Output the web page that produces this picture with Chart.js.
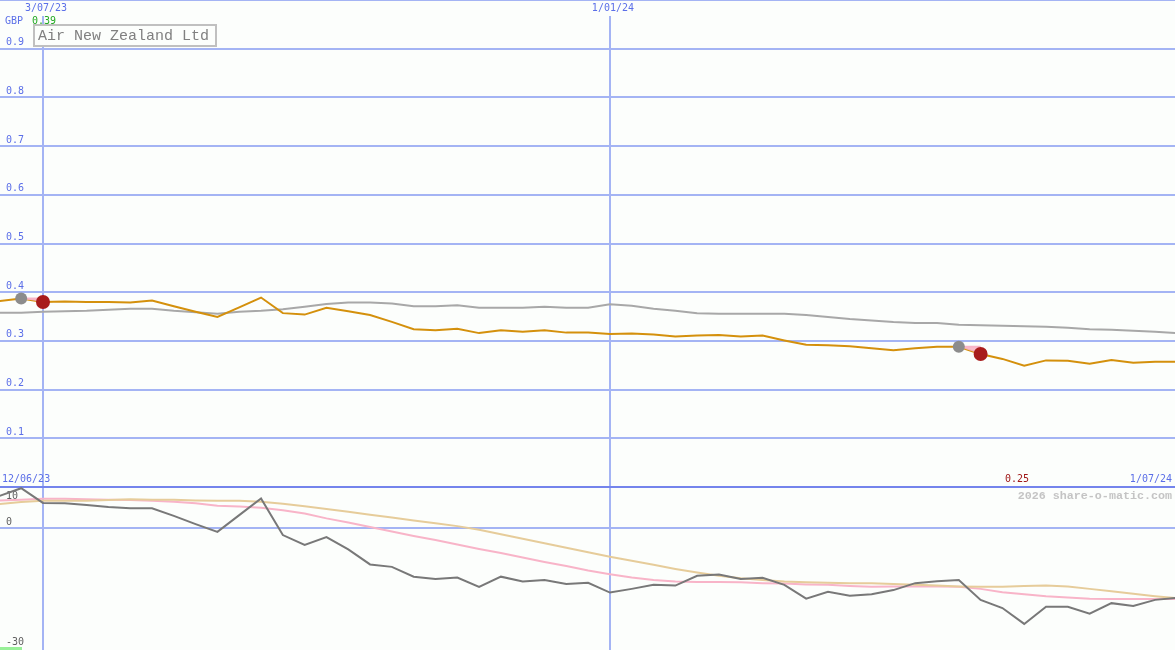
<!DOCTYPE html>
<html><head><meta charset="utf-8">
<script src="https://cdn.jsdelivr.net/npm/chart.js@4.4.1/dist/chart.umd.min.js"></script>
<style>html,body{margin:0;padding:0;background:#fcfefc;overflow:hidden}canvas{display:block}</style>
</head><body>
<canvas id="c" width="1175" height="650"></canvas>
<script>
const dates = ['19/06/23','26/06/23','3/07/23','10/07/23','17/07/23','24/07/23','31/07/23','7/08/23','14/08/23','21/08/23','28/08/23','4/09/23','11/09/23','18/09/23','25/09/23','2/10/23','9/10/23','16/10/23','23/10/23','30/10/23','6/11/23','13/11/23','20/11/23','27/11/23','4/12/23','11/12/23','18/12/23','25/12/23','1/01/24','8/01/24','15/01/24','22/01/24','29/01/24','5/02/24','12/02/24','19/02/24','26/02/24','4/03/24','11/03/24','18/03/24','25/03/24','1/04/24','8/04/24','15/04/24','22/04/24','29/04/24','6/05/24','13/05/24','20/05/24','27/05/24','3/06/24','10/06/24','17/06/24','24/06/24','1/07/24'];
const price = [0.382,0.387,0.380,0.381,0.380,0.380,0.379,0.383,0.371,0.360,0.349,0.369,0.389,0.357,0.354,0.368,0.361,0.353,0.339,0.324,0.322,0.325,0.316,0.322,0.319,0.322,0.317,0.317,0.314,0.315,0.313,0.309,0.311,0.312,0.309,0.311,0.301,0.292,0.291,0.289,0.285,0.281,0.285,0.288,0.288,0.273,0.263,0.249,0.260,0.259,0.253,0.261,0.255,0.257,0.257];
const priceAvg = [0.358,0.358,0.360,0.361,0.362,0.364,0.366,0.366,0.362,0.359,0.356,0.360,0.362,0.365,0.370,0.376,0.379,0.379,0.377,0.371,0.371,0.373,0.368,0.368,0.368,0.370,0.368,0.368,0.375,0.372,0.366,0.362,0.357,0.356,0.356,0.356,0.356,0.353,0.349,0.345,0.342,0.339,0.337,0.337,0.333,0.332,0.331,0.330,0.329,0.327,0.324,0.323,0.321,0.319,0.316];
const momentum = [7.8,9.7,6.1,6.0,5.6,5.1,4.8,4.8,2.9,0.9,-1.0,3.1,7.2,-1.8,-4.2,-2.3,-5.3,-9.0,-9.6,-12.0,-12.6,-12.2,-14.5,-12.0,-13.2,-12.8,-13.8,-13.5,-15.9,-15.0,-14.0,-14.2,-11.8,-11.5,-12.6,-12.3,-14.0,-17.4,-15.7,-16.7,-16.3,-15.3,-13.6,-13.1,-12.8,-17.7,-19.7,-23.6,-19.4,-19.4,-21.1,-18.5,-19.2,-17.7,-17.2];
const momentumFast = [6.7,6.9,7.1,7.1,7.0,6.9,6.8,6.6,6.4,6.0,5.4,5.2,4.9,4.3,3.5,2.3,1.3,0.2,-0.9,-2.0,-3.0,-4.1,-5.2,-6.2,-7.3,-8.4,-9.4,-10.5,-11.4,-12.2,-12.8,-13.2,-13.3,-13.3,-13.4,-13.6,-13.7,-13.9,-14.0,-14.3,-14.5,-14.4,-14.4,-14.4,-14.5,-15.0,-15.8,-16.3,-16.8,-17.1,-17.4,-17.5,-17.5,-17.5,-17.5];
const momentumSlow = [5.8,6.3,6.6,6.6,6.6,6.8,7.0,6.9,6.9,6.7,6.6,6.6,6.4,5.9,5.3,4.6,3.9,3.2,2.5,1.8,1.1,0.4,-0.5,-1.6,-2.7,-3.8,-4.9,-6.0,-7.1,-8.1,-9.1,-10.1,-11.0,-11.8,-12.4,-12.8,-13.2,-13.4,-13.5,-13.6,-13.6,-13.8,-14.0,-14.2,-14.4,-14.5,-14.5,-14.3,-14.2,-14.4,-15.0,-15.6,-16.2,-16.8,-17.3];
const signalGrayIdx = [1, 44];
const signalRedIdx = [2, 45];
const xTickDates = ['3/07/23', '1/01/24'];
const priceTicks = [0, 0.1, 0.2, 0.3, 0.4, 0.5, 0.6, 0.7, 0.8, 0.9];
const momentumTicks = [-30, 0, 10];
const title = 'Air New Zealand Ltd';

const BLUE_TXT = '#5b6fe8', GRID = '#a4b4f4', SEP = '#7484ec', BG = '#fcfefc';
const MONO = "'DejaVu Sans Mono', 'Liberation Mono', monospace";
const REF = Date.UTC(2023, 6, 3);
function dayOf(s) { const [d, m, y] = s.split('/').map(Number); return (Date.UTC(2000 + y, m - 1, d) - REF) / 86400000; }
const xs = dates.map(dayOf);
const pts = arr => arr.map((v, i) => ({x: xs[i], y: v}));
const noPad = s => { s.paddingLeft = 0; s.paddingRight = 0; s.paddingTop = 0; s.paddingBottom = 0; };

const datasets = [];
datasets.push({label: 'sigRed', data: signalRedIdx.map(i => ({x: xs[i], y: price[i]})), yAxisID: 'yP', showLine: false, pointRadius: 7, pointBackgroundColor: '#a81c1c', pointBorderWidth: 0, pointHoverRadius: 7});
datasets.push({label: 'sigGray', data: signalGrayIdx.map(i => ({x: xs[i], y: price[i]})), yAxisID: 'yP', showLine: false, pointRadius: 6, pointBackgroundColor: '#8c8c8c', pointBorderWidth: 0, pointHoverRadius: 6});
const priceIndex = 2 + signalGrayIdx.length;
signalGrayIdx.forEach((g, j) => {
  const r = signalRedIdx[j];
  datasets.push({label: 'band' + j, data: [{x: xs[g], y: price[g]}, {x: xs[r], y: price[g]}], yAxisID: 'yP', borderColor: '#f8b4c8', borderWidth: 2, backgroundColor: 'rgba(248,180,200,0.9)', fill: priceIndex, pointRadius: 0});
});
datasets.push({label: 'price', data: pts(price), yAxisID: 'yP', borderColor: '#d4900c', borderWidth: 2, pointRadius: 0, fill: false, tension: 0});
datasets.push({label: 'avg', data: pts(priceAvg), yAxisID: 'yP', borderColor: '#a8a8a8', borderWidth: 2, pointRadius: 0, fill: false});
datasets.push({label: 'mom', data: pts(momentum), yAxisID: 'yM', borderColor: '#787878', borderWidth: 2, pointRadius: 0, fill: false});
datasets.push({label: 'slow', data: pts(momentumSlow), yAxisID: 'yM', borderColor: '#e6cc9a', borderWidth: 2, pointRadius: 0, fill: false});
datasets.push({label: 'fast', data: pts(momentumFast), yAxisID: 'yM', borderColor: '#f8b4c8', borderWidth: 2, pointRadius: 0, fill: false});

const momLH = {'10': '18px', '0': '11.5px', '-30': '16px'};

const decor = {
  id: 'decor',
  beforeDraw(chart) {
    const c = chart.ctx;
    c.save();
    c.fillStyle = BG; c.fillRect(0, 0, chart.width, chart.height);
    c.fillStyle = GRID; c.fillRect(0, 0, chart.width, 1);
    c.font = '10px ' + MONO; c.textBaseline = 'middle'; c.textAlign = 'left';
    c.fillStyle = BLUE_TXT; c.fillText('GBP', 5, 21);
    c.fillStyle = '#22a822'; c.fillText(Math.max(...price).toFixed(2), 32, 21);
    c.restore();
  },
  afterDraw(chart) {
    const c = chart.ctx;
    c.save();
    c.fillStyle = BG; c.fillRect(33, 24, 184, 23);
    c.strokeStyle = '#c0c0c0'; c.lineWidth = 2; c.strokeRect(34, 25, 182, 21);
    c.fillStyle = '#808080'; c.font = "15px 'Liberation Mono', monospace"; c.textBaseline = 'middle'; c.textAlign = 'left';
    c.fillText(title, 38, 36);
    c.font = '10px ' + MONO;
    c.fillStyle = BLUE_TXT; c.fillText('12/06/23', 2, 479);
    c.fillStyle = '#a01818'; c.fillText(price[price.length - 1].toFixed(3).slice(0, 4), 1005, 479);
    c.textAlign = 'right';
    c.fillStyle = BLUE_TXT; c.fillText(dates[dates.length - 1], 1172, 479);
    c.fillStyle = '#c4c4c4'; c.font = "bold 11.7px 'Liberation Mono', monospace";
    c.fillText('2026 share-o-matic.com', 1172, 496);
    c.fillStyle = '#98f098'; c.fillRect(0, 647, 22, 3);
    c.restore();
  }
};

new Chart(document.getElementById('c'), {
  type: 'line',
  data: {datasets},
  plugins: [decor],
  options: {
    responsive: false, animation: false, devicePixelRatio: 1,
    layout: {padding: 0, autoPadding: false},
    plugins: {legend: {display: false}, tooltip: {enabled: false}},
    scales: {
      x: {
        type: 'linear', position: 'top', min: -13.8, max: 363.4,
        afterBuildTicks: s => { s.ticks = xTickDates.map(d => ({value: dayOf(d)})); },
        afterFit: s => { s.height = 16; noPad(s); },
        ticks: {callback: (v, i) => xTickDates[i], color: BLUE_TXT, font: {family: MONO, size: 10}, padding: 2, labelOffset: 3, maxRotation: 0, autoSkip: false},
        grid: {color: GRID, lineWidth: 2, drawTicks: false},
        border: {display: false}
      },
      yM: {
        type: 'linear', position: 'left', stack: 'panels', stackWeight: 163,
        min: -30, max: 10,
        afterBuildTicks: s => { s.ticks = momentumTicks.map(v => ({value: v})); },
        afterFit: s => { s.width = 0; noPad(s); },
        ticks: {mirror: true, padding: 6, color: '#606060', autoSkip: false,
          font: ctx => ({family: MONO, size: 10, lineHeight: momLH[String(ctx.tick ? ctx.tick.value : 0)] || 1.2}),
          callback: v => v === 10 ? ['', '10'] : [String(v), '']},
        grid: {drawTicks: false, color: ctx => (ctx.tick && ctx.tick.value === 0) ? GRID : 'rgba(0,0,0,0)', lineWidth: 2},
        border: {display: false}
      },
      yP: {
        type: 'linear', position: 'left', stack: 'panels', stackWeight: 471,
        min: 0, max: (487 - 16) / 487,
        afterBuildTicks: s => { s.ticks = priceTicks.map(v => ({value: v})); },
        afterFit: s => { s.width = 0; noPad(s); },
        ticks: {mirror: true, padding: 6, labelOffset: -6, color: BLUE_TXT, font: {family: MONO, size: 10}, callback: v => v === 0 ? '' : v.toFixed(1), autoSkip: false},
        grid: {drawTicks: false, color: ctx => (ctx.tick && ctx.tick.value === 0) ? SEP : GRID, lineWidth: 2},
        border: {display: false}
      }
    }
  }
});
</script>
</body></html>
